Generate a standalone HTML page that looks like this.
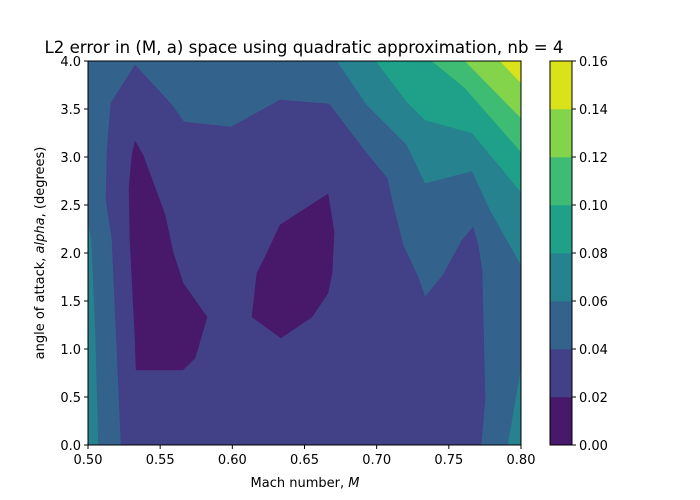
<!DOCTYPE html>
<html><head><meta charset="utf-8"><style>
body{margin:0;background:#fff}
svg{display:block;font-family:"DejaVu Sans","Liberation Sans",sans-serif}
</style></head><body>
<svg id="chart" width="700" height="500" xmlns="http://www.w3.org/2000/svg">
<rect width="700" height="500" fill="#fff"/>
<text x="304" y="53" font-size="16.6" text-anchor="middle">L2 error in (M, a) space using quadratic approximation, nb = 4</text>
<g id="plot"></g>
<g id="axes"></g>
<g id="cbar"></g>
<text x="305" y="487" font-size="13" text-anchor="middle">Mach number, <tspan font-style="italic">M</tspan></text>
<text x="44" y="253" font-size="13" text-anchor="middle" transform="rotate(-90 44 253)">angle of attack, <tspan font-style="italic">alpha</tspan>, (degrees)</text>
</svg>
<script>
const levels=[0,0.02,0.04,0.06,0.08,0.10,0.12,0.14,0.16];
const bandColors=["#48186a","#424086","#33638d","#26828e","#1fa088","#3fbc73","#84d44b","#dae319"];
const xTicks=[0.50,0.55,0.60,0.65,0.70,0.75,0.80];
const yTicks=[0,0.5,1,1.5,2,2.5,3,3.5,4];
const band1Region=[[0.5326,3.958],[0.5582,3.542],[0.5665,3.365],[0.5991,3.313],[0.633,3.594],[0.667,3.552],[0.694,3.021],[0.7072,2.781],[0.7113,2.5],[0.7183,2.083],[0.7287,1.75],[0.7335,1.542],[0.746,1.771],[0.7592,2.135],[0.7668,2.271],[0.7702,2.083],[0.773,1.823],[0.7751,0.469],[0.7723,0],[0.5229,0],[0.5166,2.135],[0.5125,2.552],[0.5132,3.073],[0.5159,3.5625]];
const band0IslandA=[[0.5326,3.167],[0.5381,3.021],[0.545,2.74],[0.5534,2.396],[0.5589,2.01],[0.5658,1.6875],[0.5825,1.333],[0.5742,0.906],[0.5658,0.781],[0.5333,0.781],[0.5326,1.094],[0.5291,2.135],[0.5284,2.677],[0.5305,3.021]];
const band0IslandB=[[0.6663,2.615],[0.6705,2.219],[0.6691,1.792],[0.6663,1.583],[0.6552,1.333],[0.6337,1.115],[0.6136,1.333],[0.6171,1.792],[0.624,2.0],[0.633,2.292]];
const band3Left=[[0.5,2.323],[0.5021,2.135],[0.5048,1.198],[0.5069,0],[0.5,0]];
const band3RightLow=[[0.8,0.781],[0.791,0],[0.8,0]];
const band3Upper=[[0.6725,4],[0.6933,3.542],[0.721,3.125],[0.7335,2.729],[0.7661,2.854],[0.7786,2.448],[0.8,1.875],[0.8,4]];
const band4Region=[[0.6995,4],[0.721,3.573],[0.7335,3.385],[0.7661,3.25],[0.8,2.635],[0.8,4]];
const band5Region=[[0.7384,4],[0.7612,3.719],[0.8,3.052],[0.8,4]];
const band6Region=[[0.7612,4],[0.8,3.406],[0.8,4]];
const band7Region=[[0.7855,4],[0.8,3.771],[0.8,4]];

const X0=88,X1=521,Y0=445,Y1=61;
const xs=m=>X0+(m-0.5)/0.3*(X1-X0);
const ys=a=>Y0-a/4*(Y0-Y1);
const NS="http://www.w3.org/2000/svg";
function mk(tag,attrs,parent){const e=document.createElementNS(NS,tag);for(const k in attrs)e.setAttribute(k,attrs[k]);parent.appendChild(e);return e;}
const plot=document.getElementById('plot'),axes=document.getElementById('axes'),cbar=document.getElementById('cbar');
const bg=mk('rect',{x:X0,y:Y1,width:X1-X0,height:Y0-Y1,fill:bandColors[2]},plot);


const polys=[[band1Region,1,'band-0.02-0.04'],[band0IslandA,0,'band-0.00-0.02-left'],[band0IslandB,0,'band-0.00-0.02-center'],[band3Left,3,'band-0.06-0.08-left'],[band3RightLow,3,'band-0.06-0.08-right'],[band3Upper,3,'band-0.06-0.08-upper'],[band4Region,4,'band-0.08-0.10'],[band5Region,5,'band-0.10-0.12'],[band6Region,6,'band-0.12-0.14'],[band7Region,7,'band-0.14-0.16']];
polys.forEach(([pts,bi,name])=>{
  const p=mk('polygon',{points:pts.map(q=>xs(q[0]).toFixed(1)+','+ys(q[1]).toFixed(1)).join(' '),fill:bandColors[bi],stroke:bandColors[bi],'stroke-width':0.5},plot);
  
  
});
const frame=mk('rect',{x:X0,y:Y1,width:X1-X0,height:Y0-Y1,fill:'none',stroke:'#000','stroke-width':1},axes);


xTicks.forEach(t=>{
  const x=xs(t);
  mk('line',{x1:x,x2:x,y1:Y0,y2:Y0+4,stroke:'#000'},axes);
  const tx=mk('text',{x:x,y:Y0+19,'font-size':13,'text-anchor':'middle'},axes);
  tx.textContent=t.toFixed(2);
  
  
});
yTicks.forEach(t=>{
  const y=ys(t);
  mk('line',{x1:X0-4,x2:X0,y1:y,y2:y,stroke:'#000'},axes);
  const tx=mk('text',{x:X0-7,y:y+5,'font-size':13,'text-anchor':'end'},axes);
  tx.textContent=t.toFixed(1);
  
  
});
const CX0=550,CX1=572;
const cy=v=>Y0-(v-levels[0])/(levels[levels.length-1]-levels[0])*(Y0-Y1);
for(let i=0;i<levels.length-1;i++){
  const r=mk('rect',{x:CX0,y:cy(levels[i+1]),width:CX1-CX0,height:cy(levels[i])-cy(levels[i+1])+0.3,fill:bandColors[i]},cbar);
  
  
}
const cf=mk('rect',{x:CX0,y:Y1,width:CX1-CX0,height:Y0-Y1,fill:'none',stroke:'#000'},cbar);


levels.forEach(v=>{
  const y=cy(v);
  mk('line',{x1:CX1,x2:CX1+4,y1:y,y2:y,stroke:'#000'},cbar);
  const tx=mk('text',{x:CX1+7,y:y+5,'font-size':13},cbar);
  tx.textContent=v.toFixed(2);
  
  
});
</script>
</body></html>
